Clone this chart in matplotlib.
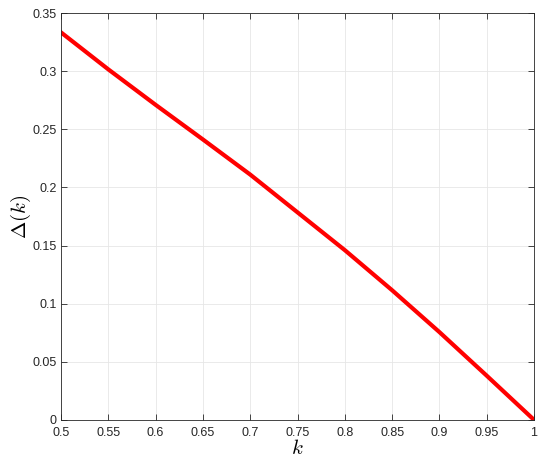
import numpy as np
import matplotlib.pyplot as plt

plt.rc('font', family=['Liberation Sans', 'DejaVu Sans'], size=9)
plt.rc('mathtext', fontset='cm')

# DATA
k = [0.5, 0.55, 0.6, 0.65, 0.7, 0.75, 0.8, 0.85, 0.9, 0.95, 1.0]
delta = [0.3333, 0.3015, 0.2710, 0.2412, 0.2110, 0.1785, 0.1460, 0.1115, 0.0755, 0.0380, 0.0]
xticks = [0.5, 0.55, 0.6, 0.65, 0.7, 0.75, 0.8, 0.85, 0.9, 0.95, 1]
yticks = [0, 0.05, 0.1, 0.15, 0.2, 0.25, 0.3, 0.35]

fig = plt.figure(figsize=[5.5, 4.65], dpi=100)
ax = fig.add_axes([0.111, 0.097, 0.860, 0.875])
ax.plot(k, delta, color='red', linewidth=3)

ax.set_xlim(0.5, 1)
ax.set_ylim(0, 0.35)
ax.set_xticks(xticks)
ax.set_xticklabels(['0.5', '0.55', '0.6', '0.65', '0.7', '0.75', '0.8', '0.85', '0.9', '0.95', '1'])
ax.set_yticks(yticks)
ax.set_yticklabels(['0', '0.05', '0.1', '0.15', '0.2', '0.25', '0.3', '0.35'])
ax.grid(True, color='#e6e6e6', linewidth=0.6)
ax.set_axisbelow(True)
ax.tick_params(direction='in', top=True, right=True, length=4, width=0.6,
               colors='#262626', labelsize=9)
ax.tick_params(axis='x', pad=5)
ax.tick_params(axis='y', pad=3)
for s in ax.spines.values():
    s.set_color('#262626')
    s.set_linewidth(0.6)

ax.set_xlabel(r'$k$', fontsize=15, labelpad=0)
ax.set_ylabel(r'$\Delta(k)$', fontsize=15, labelpad=0)

fig.savefig('out.png', dpi=100)
